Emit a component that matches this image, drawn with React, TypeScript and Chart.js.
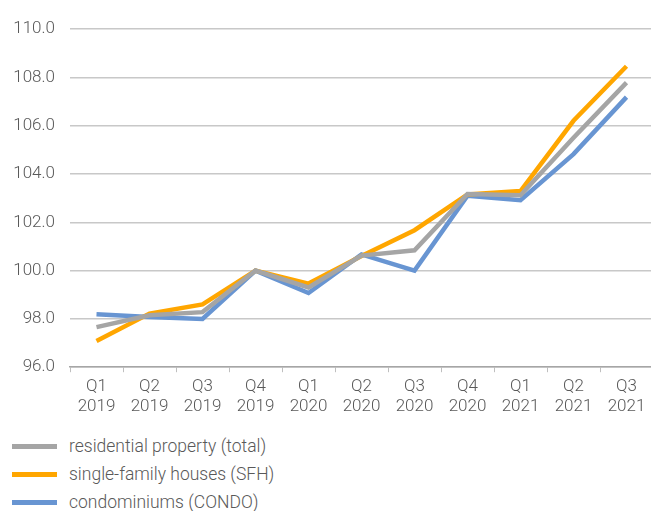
import React, { useEffect, useRef } from "react";
import { Chart, registerables } from "chart.js";

Chart.register(...registerables);

const quarters = ["Q1", "Q2", "Q3", "Q4", "Q1", "Q2", "Q3", "Q4", "Q1", "Q2", "Q3"];
const years = ["2019", "2019", "2019", "2019", "2020", "2020", "2020", "2020", "2021", "2021", "2021"];

const totalValues = [97.66, 98.15, 98.28, 100.0, 99.3, 100.62, 100.84, 103.17, 103.12, 105.5, 107.78];
const sfhValues = [97.08, 98.22, 98.6, 100.0, 99.46, 100.6, 101.67, 103.15, 103.29, 106.2, 108.46];
const condoValues = [98.19, 98.08, 98.0, 100.0, 99.07, 100.67, 100.0, 103.1, 102.91, 104.82, 107.18];

const seriesNames = ["residential property (total)", "single-family houses (SFH)", "condominiums (CONDO)"];
const seriesColors = ["#a5a5a5", "#ffa600", "#6895d2"];

const yTicks = { min: 96, max: 110, step: 2 };

const FONT = "Roboto, 'Noto Sans', sans-serif";
const TEXT_COLOR = "#595959";

export default function App() {
  const canvasRef = useRef<HTMLCanvasElement | null>(null);

  useEffect(() => {
    const canvas = canvasRef.current;
    if (!canvas) return;
    const labels = quarters.map((q, i) => [q, years[i]]);
    const values = [totalValues, sfhValues, condoValues];
    const chart = new Chart(canvas, {
      type: "line",
      data: {
        labels,
        datasets: values.map((v, i) => ({
          label: seriesNames[i],
          data: v,
          borderColor: seriesColors[i],
          backgroundColor: seriesColors[i],
          borderWidth: 4.5,
          pointRadius: 0,
          tension: 0,
          fill: false,
        })),
      },
      options: {
        animation: false,
        responsive: false,
        maintainAspectRatio: false,
        layout: { padding: { top: 29, right: 0, bottom: 2, left: 0 } },
        plugins: {
          legend: { display: false },
          tooltip: { enabled: false },
        },
        scales: {
          x: {
            offset: true,
            grid: {
              display: true,
              offset: true,
              drawOnChartArea: false,
              drawTicks: true,
              tickLength: 5,
              color: "#bfbfbf",
            },
            border: { display: true, color: "#a6a6a6", width: 1.5 },
            ticks: {
              color: TEXT_COLOR,
              font: { family: FONT, size: 17, weight: "300" as any, lineHeight: 1.2 },
              padding: 4,
              maxRotation: 0,
              autoSkip: false,
            },
          },
          y: {
            min: yTicks.min,
            max: yTicks.max,
            grid: { color: "#c8c8c8", lineWidth: 1.5, drawTicks: false },
            border: { display: false },
            afterFit: (scale: any) => {
              scale.width = 70;
            },
            ticks: {
              stepSize: yTicks.step,
              color: TEXT_COLOR,
              font: { family: FONT, size: 17, weight: "300" as any },
              padding: 15,
              callback: (v: any) => Number(v).toFixed(1),
            },
          },
        },
      },
    });
    return () => chart.destroy();
  }, []);

  return (
    <div style={{ position: "absolute", left: 0, top: 0, width: 651, height: 511, overflow: "hidden", background: "#fff" }}>
      <canvas ref={canvasRef} width={653} height={423} style={{ display: "block" }} />
      <div style={{ position: "absolute", left: 0, top: 432, fontFamily: FONT, fontWeight: 300, fontSize: 17.5, color: TEXT_COLOR }}>
        {seriesNames.map((name, i) => (
          <div key={name} style={{ display: "flex", alignItems: "center", height: 28 }}>
            <div style={{ marginLeft: 12, width: 45, height: 5, background: seriesColors[i] }} />
            <span style={{ marginLeft: 12 }}>{name}</span>
          </div>
        ))}
      </div>
    </div>
  );
}
